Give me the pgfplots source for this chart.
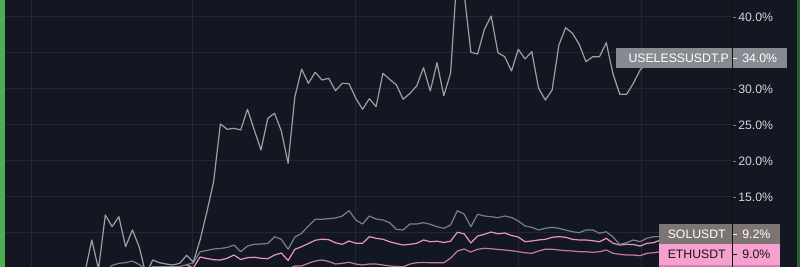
\documentclass[border=0pt]{standalone}
\usepackage{fontspec}
\setmainfont{Liberation Sans}
\usepackage{pgfplots}
\pgfplotsset{compat=1.18}
\definecolor{bgc}{HTML}{131722}
\definecolor{gridc}{HTML}{242733}
\definecolor{uselessc}{HTML}{9C9FA7}
\definecolor{solc}{HTML}{7B7E88}
\definecolor{ethc}{HTML}{E895C4}
\definecolor{fourc}{HTML}{C47AA2}
\definecolor{labelc}{HTML}{D1D4DC}
\definecolor{tickc}{HTML}{787B86}
\definecolor{ulbg}{HTML}{878B91}
\definecolor{solbg}{HTML}{7D7573}
\definecolor{ethbg}{HTML}{F6A0CF}
\definecolor{fourbg}{HTML}{D27FAE}
\definecolor{sepc}{HTML}{0C0E14}
\definecolor{greenl}{HTML}{4CAF50}
\definecolor{greenr}{HTML}{2F5F36}
\begin{document}
\begin{tikzpicture}[x=0.75pt,y=0.75pt]
\useasboundingbox (0,0) rectangle (800,267);
\fill[bgc] (0,0) rectangle (800,267);
\fill[greenl] (0,0) rectangle (5,267);
\fill[greenr] (796.5,0) rectangle (800,267);
\begin{axis}[
  at={(3.75pt,0pt)}, anchor=south west,
  scale only axis, width=545.25pt, height=200.25pt,
  xmin=-11.817, xmax=95.57, ymin=5.278, ymax=42.361,
  axis line style={draw=none},
  xtick={-7.976,15.953,40.03,63.96,82.27}, xticklabels={},
  x tick style={draw=none},
  ytick={10,15,20,25,30,35,40},
  yticklabels={,15.0\%,20.0\%,25.0\%,30.0\%,,40.0\%},
  ytick pos=right, yticklabel pos=right,
  tick align=outside, major tick length=3pt,
  y tick style={color=tickc, line width=0.6pt},
  grid=major, major grid style={color=gridc, line width=0.75pt},
  /pgf/number format/assume math mode=true,
  yticklabel style={font=\fontsize{9.2}{11}\selectfont, text=labelc, anchor=west, inner sep=0pt, xshift=1.5pt},
  every axis plot/.append style={line width=0.9pt, line join=round},
]
\addplot[fourc] coordinates {
(30,5.0)(31,5.42)(32,5.42)(33,5.79)(34,6.11)(35,6.25)(36,6.04)(37,5.69)(38,5.79)(39,5.93)
(40,5.69)(41,5.56)(42,5.69)(43,5.69)(44,5.56)(45,5.42)(46,5.35)(47,5.32)(48,5.69)(49,5.875)
(50,5.90)(51,5.875)(52,5.875)(53,5.875)(54,6.49)(55,7.5)(56,7.78)(57,7.36)(58,7.74)(59,7.875)
(60,7.81)(61,7.71)(62,7.64)(63,7.54)(64,7.40)(65,7.26)(66,7.18)(67,7.5)(68,7.74)(69,7.74)
(70,7.64)(71,7.54)(72,7.5)(73,7.40)(74,7.40)(75,7.32)(76,7.40)(77,7.64)(78,7.18)(79,7.04)
(80,6.94)(81,6.94)(82,6.85)(83,7.18)(84,7.26)(85,7.40)
};
\addplot[ethc] coordinates {
(15,5.56)(16,5.14)(17,6.67)(18,6.46)(19,6.29)
(20,6.25)(21,6.49)(22,6.94)(23,6.32)(24,6.57)(25,6.63)(26,6.49)(27,6.43)(28,6.94)(29,7.22)
(30,6.18)(31,7.74)(32,8.10)(33,8.54)(34,8.99)(35,9.14)(36,9.07)(37,8.64)(38,8.43)(39,8.89)
(40,8.57)(41,8.57)(42,9.49)(43,9.26)(44,9.125)(45,8.79)(46,8.54)(47,8.33)(48,8.43)(49,8.57)
(50,9.03)(51,8.79)(52,8.86)(53,8.68)(54,8.86)(55,10.10)(56,9.89)(57,8.61)(58,9.58)(59,9.82)
(60,10.14)(61,9.89)(62,10.0)(63,9.65)(64,9.44)(65,8.79)(66,8.89)(67,9.03)(68,9.125)(69,9.40)
(70,9.49)(71,9.40)(72,9.125)(73,9.03)(74,9.03)(75,8.93)(76,8.79)(77,9.26)(78,8.57)(79,8.33)
(80,8.43)(81,8.40)(82,8.19)(83,8.57)(84,8.65)(85,9.03)
};
\addplot[solc] coordinates {
(3,4.58)(4,5.49)(5,5.79)(6,5.875)(7,6.11)(8,5.625)(9,4.9)
(10,5.3)(11,5.3)(12,5.3)(13,5.3)(14,5.35)(15,5.6)(16,5.83)(17,7.40)(18,7.57)(19,7.78)
(20,7.85)(21,7.99)(22,8.33)(23,7.40)(24,8.19)(25,8.43)(26,8.47)(27,8.54)(28,9.49)(29,9.125)
(30,7.74)(31,9.44)(32,9.96)(33,10.97)(34,11.90)(35,11.90)(36,11.99)(37,12.08)(38,12.36)(39,13.10)
(40,11.81)(41,11.25)(42,12.36)(43,11.94)(44,11.81)(45,11.43)(46,10.49)(47,10.42)(48,11.25)(49,11.25)
(50,11.43)(51,11.21)(52,10.875)(53,10.65)(54,11.11)(55,13.10)(56,12.64)(57,10.875)(58,12.60)(59,12.36)
(60,12.26)(61,12.125)(62,12.36)(63,12.15)(64,11.67)(65,10.97)(66,10.79)(67,10.42)(68,10.65)(69,10.79)
(70,10.65)(71,10.42)(72,10.18)(73,10.04)(74,10.42)(75,10.42)(76,9.96)(77,10.18)(78,9.44)(79,8.43)
(80,8.65)(81,9.03)(82,8.79)(83,9.26)(84,9.49)(85,9.5)
};
\addplot[uselessc] coordinates {
(0,4.58)(1,9.03)(2,5.0)(3,12.5)(4,10.88)(5,12.26)(6,8.10)(7,10.42)(8,8.10)(9,4.21)
(10,6.25)(11,5.875)(12,5.69)(13,5.56)(14,5.79)(15,6.90)(16,5.97)(17,9.03)(18,12.92)(19,17.125)
(20,25.14)(21,24.40)(22,24.54)(23,24.31)(24,27.18)(25,24.31)(26,21.53)(27,25.93)(28,26.625)(29,24.17)
(30,19.68)(31,28.93)(32,32.74)(33,30.79)(34,32.32)(35,31.25)(36,31.49)(37,29.76)(38,30.79)(39,30.74)
(40,28.71)(41,27.18)(42,28.65)(43,27.54)(44,32.18)(45,31.35)(46,30.56)(47,28.57)(48,29.40)(49,30.42)
(50,32.96)(51,29.72)(52,33.65)(53,29.07)(54,32.18)(55,46.53)(56,43.33)(57,35.10)(58,34.86)(59,38.29)
(60,40.14)(61,35.04)(62,34.49)(63,32.5)(64,35.51)(65,34.17)(66,35.18)(67,30.10)(68,28.47)(69,29.86)
(70,36.11)(71,38.51)(72,37.74)(73,36.21)(74,33.79)(75,34.49)(76,34.49)(77,36.43)(78,32.08)(79,29.26)
(80,29.26)(81,30.79)(82,32.64)(83,33.6)(84,34.0)(85,34.0)
};
\end{axis}
% last-value labels
\fill[ulbg] (616,198.7) rectangle (787,218.7);
\node[anchor=east, inner sep=0pt, text=white, font=\fontsize{9.2}{11}\selectfont] at (729,208.7) {USELESSUSDT.P};
\draw[white, line width=0.6pt] (733,208.7) -- (737,208.7);
\node[anchor=west, inner sep=0pt, text=white, font=\fontsize{9.2}{11}\selectfont] at (742,208.7) {34.0\%};
\fill[solbg] (659,22.7) rectangle (780,42.7);
\node[anchor=east, inner sep=0pt, text=white, font=\fontsize{9.2}{11}\selectfont] at (726,32.7) {SOLUSDT};
\draw[white, line width=0.6pt] (733,32.7) -- (737,32.7);
\node[anchor=west, inner sep=0pt, text=white, font=\fontsize{9.2}{11}\selectfont] at (742,32.7) {9.2\%};
\fill[ethbg] (659,2) rectangle (780,22.7);
\node[anchor=east, inner sep=0pt, text=black!90, font=\fontsize{9.2}{11}\selectfont] at (726,12.3) {ETHUSDT};
\draw[black!90, line width=0.6pt] (733,12.3) -- (737,12.3);
\node[anchor=west, inner sep=0pt, text=black!90, font=\fontsize{9.2}{11}\selectfont] at (742,12.3) {9.0\%};
\fill[fourbg] (659,0) rectangle (780,2);
\draw[sepc, line width=0.75pt] (732.5,0) -- (732.5,267);
\end{tikzpicture}
\end{document}
